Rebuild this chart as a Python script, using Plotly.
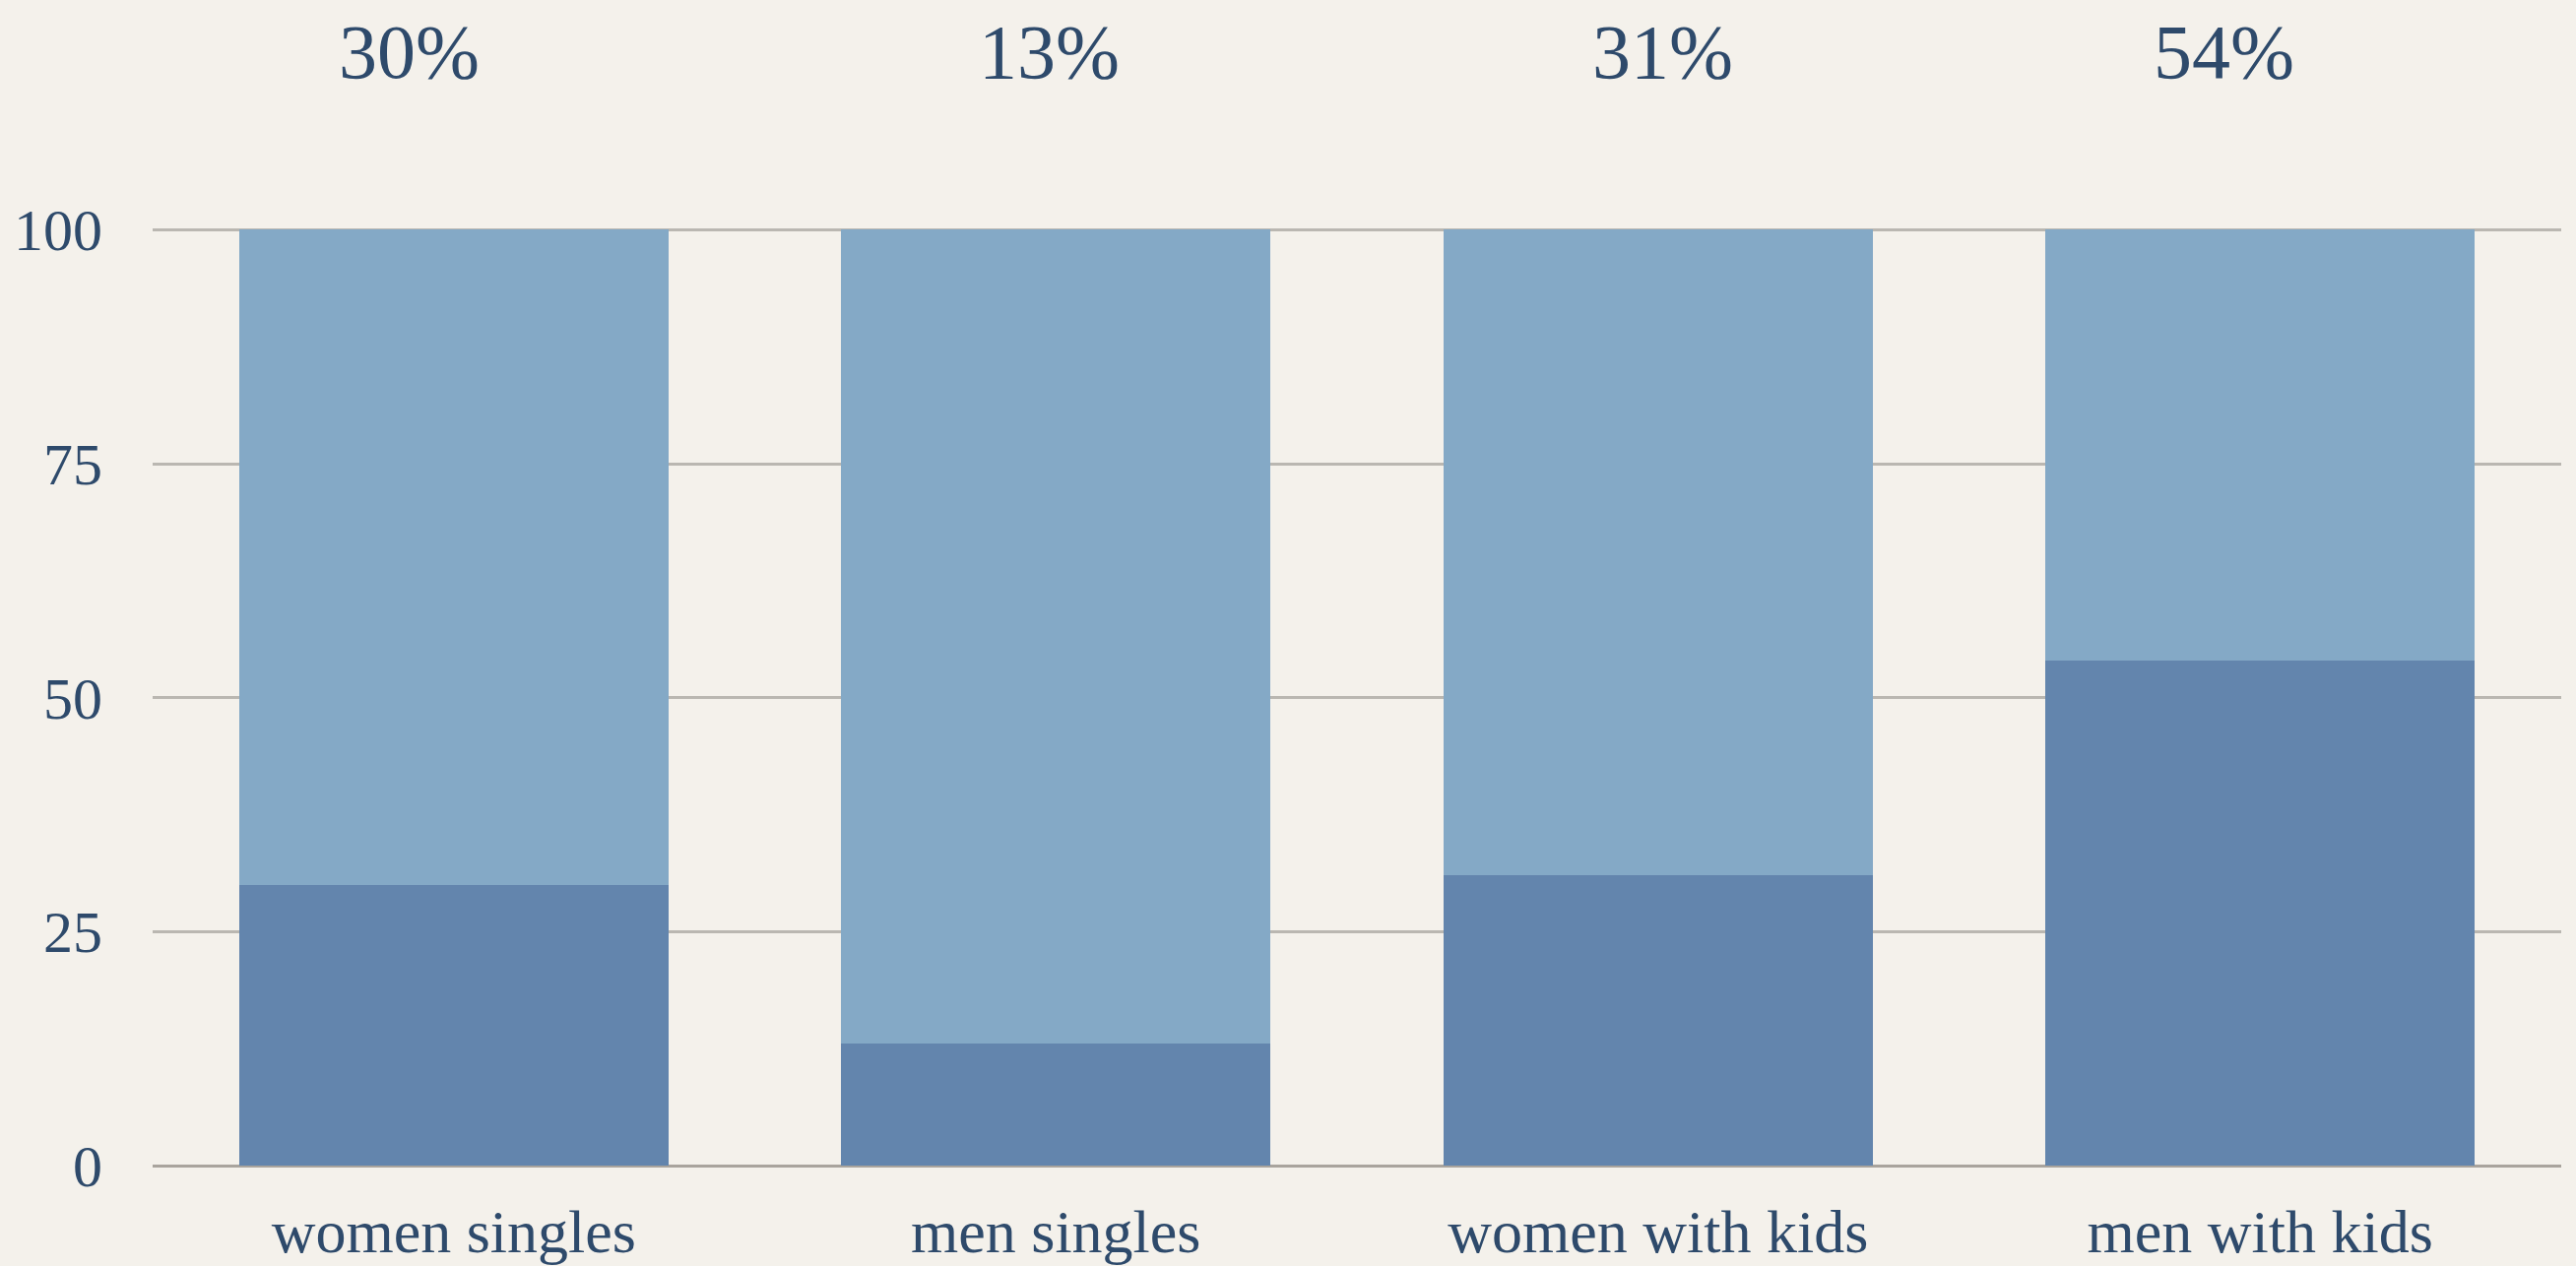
import plotly.graph_objects as go

categories = ["women singles", "men singles", "women with kids", "men with kids"]
share_pct = [30, 13, 31, 54]
remainder_pct = [100 - v for v in share_pct]
top_labels = ["30%", "13%", "31%", "54%"]
y_ticks = [0, 25, 50, 75, 100]

FONT = "'Palatino Linotype', 'Book Antiqua', Palatino, 'Liberation Serif', serif"
TEXT = "#2E4A6B"
BG = "#F4F1EB"
label_xshift = [-45, -7, 5, -37]  # pixel nudges matching the reference layout

fig = go.Figure()
fig.add_trace(go.Bar(x=categories, y=share_pct, marker=dict(color="#6385AD", line=dict(width=0)),
                     hoverinfo="skip"))
fig.add_trace(go.Bar(x=categories, y=remainder_pct, marker=dict(color="#84A9C6", line=dict(width=0)),
                     hoverinfo="skip"))

for c, t, dx in zip(categories, top_labels, label_xshift):
    fig.add_annotation(x=c, y=1.186, xref="x", yref="paper", text=t, showarrow=False, xshift=dx,
                       font=dict(family=FONT, size=78, color=TEXT), yanchor="middle", xanchor="center")

fig.update_layout(
    width=2616, height=1286,
    margin=dict(l=155, r=15, t=230, b=102, pad=0, autoexpand=False),
    barmode="stack", bargap=0.287,
    paper_bgcolor=BG, plot_bgcolor="rgba(0,0,0,0)",
    showlegend=False,
    font=dict(family=FONT, color=TEXT),
    xaxis=dict(showgrid=False, ticks="", tickfont=dict(family=FONT, size=62, color=TEXT),
               ticklabelstandoff=25, showline=False, zeroline=False, automargin=False),
    yaxis=dict(range=[0, 100.35], tickvals=y_ticks, ticktext=[str(v) for v in y_ticks],
               showgrid=True, gridcolor="#BAB7B1", gridwidth=3,
               zeroline=True, zerolinecolor="#A9A49D", zerolinewidth=3,
               tickfont=dict(family=FONT, size=60, color=TEXT), ticks="",
               ticklabelstandoff=50, showline=False, automargin=False),
)

fig.write_html(
    "out.html",
    config={"displayModeBar": False},
    post_script="document.body.style.margin='0';document.body.style.overflow='hidden';"
                "document.body.style.background='" + BG + "';",
)
